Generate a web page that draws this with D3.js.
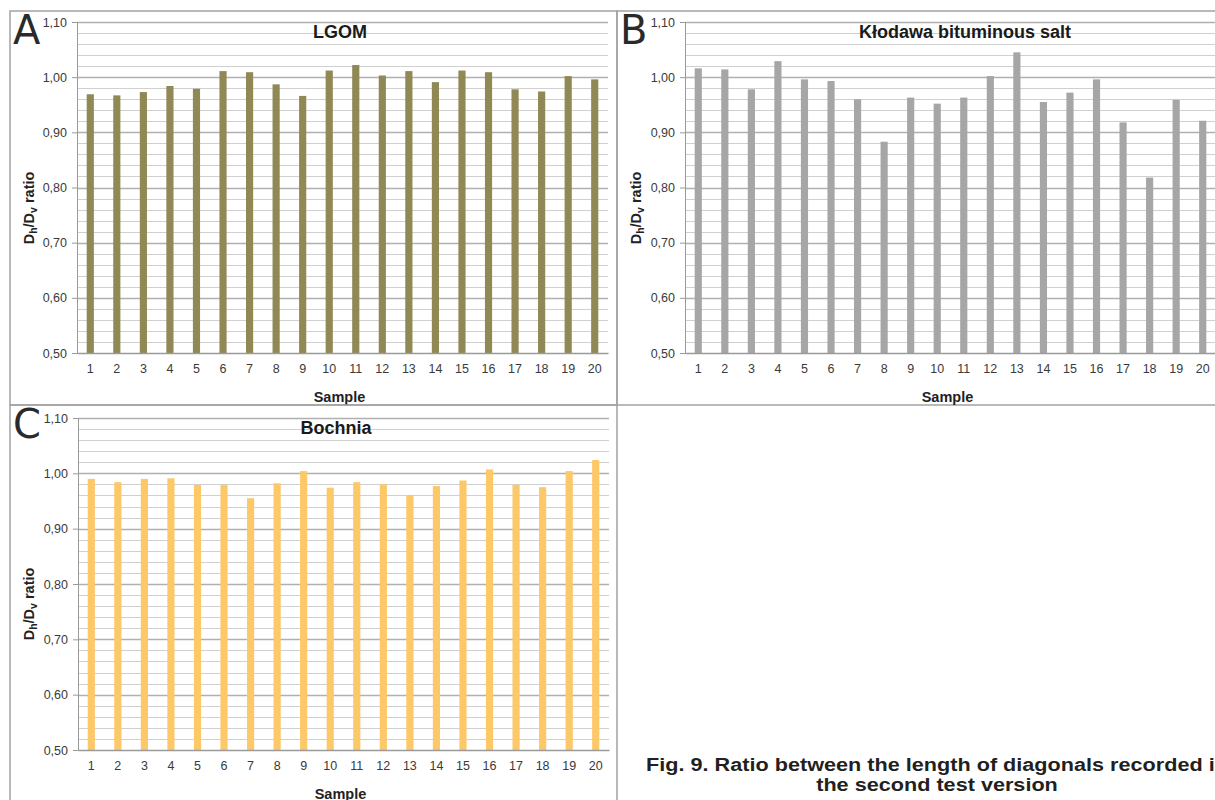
<!DOCTYPE html>
<html>
<head>
<meta charset="utf-8">
<script src="https://cdn.jsdelivr.net/npm/d3@7/dist/d3.min.js"></script>
<style>
  body { margin: 0; background: #fff; }
  svg { display: block; font-family: "Liberation Sans", Arial, sans-serif; }
</style>
</head>
<body>
<svg id="fig" width="1215" height="800"></svg>
<script>
var samples = d3.range(1, 21).map(String);
var yTicks = [0.5, 0.6, 0.7, 0.8, 0.9, 1.0, 1.1];
var yMinor = d3.range(0.5, 1.1001, 0.02);

var lgomValues = [0.969, 0.967, 0.973, 0.984, 0.979, 1.011, 1.009, 0.987, 0.966, 1.012,
                  1.022, 1.003, 1.011, 0.991, 1.012, 1.009, 0.978, 0.974, 1.002, 0.996];
var klodawaValues = [1.016, 1.014, 0.978, 1.029, 0.996, 0.993, 0.960, 0.883, 0.963, 0.952,
                     0.963, 1.002, 1.045, 0.955, 0.972, 0.996, 0.918, 0.818, 0.959, 0.921];
var bochniaValues = [0.990, 0.984, 0.990, 0.991, 0.979, 0.979, 0.955, 0.982, 1.004, 0.974,
                     0.984, 0.980, 0.961, 0.977, 0.987, 1.007, 0.979, 0.975, 1.004, 1.024];

var caption = ["Fig. 9. Ratio between the length of diagonals recorded in",
               "the second test version"];

var svg = d3.select('#fig');

var panels = [
    { letter: 'A', title: 'LGOM', values: lgomValues, color: '#908855',
      frame: [10, 11, 607, 394], plot: [77, 22, 608, 353], titleX: 340 },
    { letter: 'B', title: 'Kłodawa bituminous salt', values: klodawaValues, color: '#a6a6a6',
      frame: [617, 11, 640, 394], plot: [685, 22, 1216, 353], titleX: 965 },
    { letter: 'C', title: 'Bochnia', values: bochniaValues, color: '#fdc868',
      frame: [10, 405, 607, 420], plot: [78, 418, 609, 750], titleX: 336 }
];

panels.forEach(drawPanel);

// caption is set in a wide bold face, so stretch it horizontally
svg.selectAll('text.caption')
    .data(caption)
    .enter().append('text')
    .attr('class', 'caption')
    .attr('transform', function (d, i) { return 'translate(937,' + (771 + i * 20) + ') scale(1.17,1)'; })
    .attr('text-anchor', 'middle')
    .attr('font-size', 18.5)
    .attr('font-weight', 'bold')
    .attr('fill', '#231f20')
    .text(function (d) { return d; });

function drawPanel(p) {
    var g = svg.append('g');
    var left = p.plot[0], top = p.plot[1], right = p.plot[2], bottom = p.plot[3];

    g.append('rect')
        .attr('x', p.frame[0]).attr('y', p.frame[1])
        .attr('width', p.frame[2]).attr('height', p.frame[3])
        .attr('fill', 'none')
        .attr('stroke', '#a3a3a3')
        .attr('stroke-width', 1.5);

    var x = d3.scaleBand()
        .domain(samples)
        .range([left, right])
        .paddingInner(0.73)
        .paddingOuter(0.365);

    var y = d3.scaleLinear()
        .domain([0.5, 1.1])
        .range([bottom, top]);

    // minor then major gridlines
    g.selectAll('line.minor')
        .data(yMinor)
        .enter().append('line')
        .attr('x1', left).attr('x2', right)
        .attr('y1', function (d) { return Math.round(y(d)) + 0.5; })
        .attr('y2', function (d) { return Math.round(y(d)) + 0.5; })
        .attr('stroke', '#d0d0d0')
        .attr('stroke-width', 1.2);

    g.selectAll('line.major')
        .data(yTicks.slice(1))
        .enter().append('line')
        .attr('x1', left).attr('x2', right)
        .attr('y1', function (d) { return Math.round(y(d)) + 0.5; })
        .attr('y2', function (d) { return Math.round(y(d)) + 0.5; })
        .attr('stroke', '#b0b0b0')
        .attr('stroke-width', 1.3);

    g.selectAll('rect.bar')
        .data(p.values)
        .enter().append('rect')
        .attr('x', function (d, i) { return x(samples[i]); })
        .attr('y', function (d) { return y(d); })
        .attr('width', x.bandwidth())
        .attr('height', function (d) { return y(0.5) - y(d); })
        .attr('fill', p.color);

    var yAxis = g.append('g')
        .attr('transform', 'translate(' + left + ',0)')
        .call(d3.axisLeft(y)
            .tickValues(yTicks)
            .tickSize(5)
            .tickPadding(5)
            .tickFormat(function (d) { return d3.format('.2f')(d).replace('.', ','); }));
    yAxis.select('.domain').attr('stroke', '#9a9a9a');
    yAxis.selectAll('.tick line').attr('stroke', '#9a9a9a');
    yAxis.selectAll('text')
        .attr('font-size', 12.5)
        .attr('fill', '#3a3a3a')
        .attr('font-family', '"Liberation Sans", Arial, sans-serif');

    var xAxis = g.append('g')
        .attr('transform', 'translate(0,' + bottom + ')')
        .call(d3.axisBottom(x).tickSize(0).tickPadding(11));
    xAxis.select('.domain').attr('stroke', '#9a9a9a').attr('stroke-width', 1.3);
    xAxis.selectAll('text')
        .attr('font-size', 12.5)
        .attr('fill', '#3a3a3a')
        .attr('font-family', '"Liberation Sans", Arial, sans-serif');

    g.append('text')
        .attr('x', (left + right) / 2 - 3)
        .attr('y', bottom + 49)
        .attr('text-anchor', 'middle')
        .attr('font-size', 14.5)
        .attr('font-weight', 'bold')
        .attr('fill', '#222')
        .text('Sample');

    var yt = g.append('text')
        .attr('transform', 'translate(' + (p.frame[0] + 24) + ',' + (top + 186) + ') rotate(-90)')
        .attr('text-anchor', 'middle')
        .attr('font-size', 14.5)
        .attr('font-weight', 'bold')
        .attr('fill', '#222');
    yt.append('tspan').text('D');
    yt.append('tspan').attr('font-size', 10.5).attr('dy', 3).text('h');
    yt.append('tspan').attr('dy', -3).text('/D');
    yt.append('tspan').attr('font-size', 10.5).attr('dy', 3).text('v');
    yt.append('tspan').attr('dy', -3).text(' ratio');

    g.append('text')
        .attr('x', p.titleX)
        .attr('y', top + 16)
        .attr('text-anchor', 'middle')
        .attr('font-size', 18)
        .attr('font-weight', 'bold')
        .attr('fill', '#1a1a1a')
        .text(p.title);

    g.append('text')
        .attr('x', p.frame[0] + 3)
        .attr('y', p.frame[1] + 33)
        .attr('font-size', 40)
        .attr('fill', '#2a2a2a')
        .attr('font-family', '"DejaVu Sans", sans-serif')
        .text(p.letter);
}
</script>
</body>
</html>
